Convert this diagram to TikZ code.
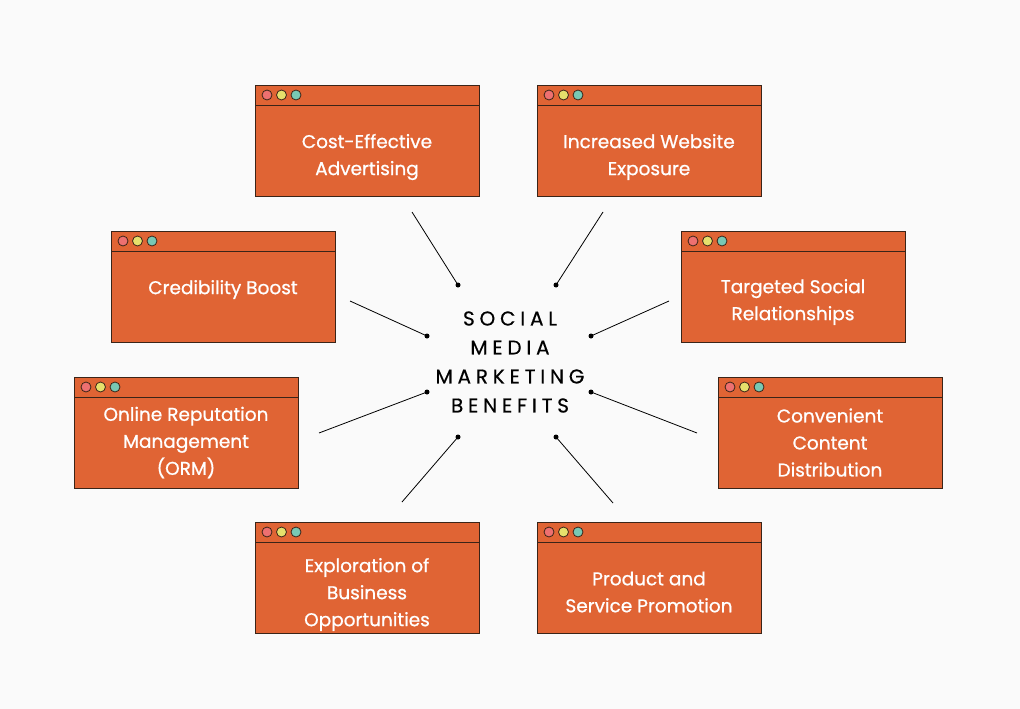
\documentclass[tikz,border=0pt]{standalone}
\usepackage{fontspec}
\setmainfont{Poppins}
\newfontfamily\boxfont[FakeBold=0.8]{Poppins}
\newfontfamily\titlefont[LetterSpace=24, FakeBold=0.5]{Poppins}
\definecolor{boxfill}{HTML}{E06434}
\definecolor{boxline}{HTML}{3A2418}
\definecolor{dotred}{HTML}{EE7070}
\definecolor{dotyellow}{HTML}{E6E06C}
\definecolor{dotteal}{HTML}{78C8B4}
\tikzset{
    window/.style={fill=boxfill, draw=boxline, line width=1pt},
    button/.style={draw=boxline, line width=0.8pt},
    label/.style={text=white, align=center, font=\boxfont\fontsize{18.5}{27}\selectfont},
    pin/.style={circle, fill=black, inner sep=0pt, minimum size=5pt},
    spoke/.style={black, line width=0.8pt}
}
% window box: name, left, top, text centre, text
\newcommand{\benefitbox}[5]{
    \draw[window] (#2,#3) rectangle ++(224,111);
    \draw[boxline, line width=1pt] (#2,#3+20) -- ++(224,0);
    \filldraw[button, fill=dotred] (#2+12,#3+10) circle(5);
    \filldraw[button, fill=dotyellow] (#2+26.5,#3+10) circle(5);
    \filldraw[button, fill=dotteal] (#2+41,#3+10) circle(5);
    \node[label] (#1) at (#2+112,#4) {#5};
}
\begin{document}
\begin{tikzpicture}[x=1pt, y=-1pt]
    \fill[white!98!black] (0,0) rectangle (1020,709);
    \useasboundingbox (0,0) rectangle (1020,709);
% Benefit windows
    \benefitbox{cost}{255}{85}{157}{Cost-Effective\\Advertising}
    \benefitbox{website}{537}{85}{157}{Increased Website\\Exposure}
    \benefitbox{credibility}{111}{231}{289.5}{Credibility Boost}
    \benefitbox{targeted}{681}{231}{302}{Targeted Social\\Relationships}
    \benefitbox{orm}{74}{377}{442.5}{Online Reputation\\Management\\(ORM)}
    \benefitbox{content}{718}{377}{442.5}{Convenient\\Content\\Distribution}
    \benefitbox{exploration}{255}{522}{594.5}{Exploration of\\Business\\Opportunities}
    \benefitbox{promotion}{537}{522}{592}{Product and\\Service Promotion}
% Title
    \node[font=\titlefont\fontsize{20}{29}\selectfont, align=center] (title) at (510,362)
        {SOCIAL\\MEDIA\\MARKETING\\BENEFITS};
% Pins next to the title
    \node[pin] (p1) at (458,285) {};
    \node[pin] (p2) at (556,285) {};
    \node[pin] (p3) at (427,336) {};
    \node[pin] (p4) at (591,336) {};
    \node[pin] (p5) at (427,392) {};
    \node[pin] (p6) at (591,392) {};
    \node[pin] (p7) at (458,437) {};
    \node[pin] (p8) at (556,437) {};
% Free ends of the spokes
    \coordinate (e1) at (412,212);
    \coordinate (e2) at (603,212);
    \coordinate (e3) at (350,301);
    \coordinate (e4) at (669,301);
    \coordinate (e5) at (319,433);
    \coordinate (e6) at (697,433);
    \coordinate (e7) at (402,502);
    \coordinate (e8) at (613,503);
% Spokes
    \draw[spoke] (e1) -- (p1.center);
    \draw[spoke] (e2) -- (p2.center);
    \draw[spoke] (e3) -- (p3.center);
    \draw[spoke] (e4) -- (p4.center);
    \draw[spoke] (e5) -- (p5.center);
    \draw[spoke] (e6) -- (p6.center);
    \draw[spoke] (e7) -- (p7.center);
    \draw[spoke] (e8) -- (p8.center);
\end{tikzpicture}
\end{document}
